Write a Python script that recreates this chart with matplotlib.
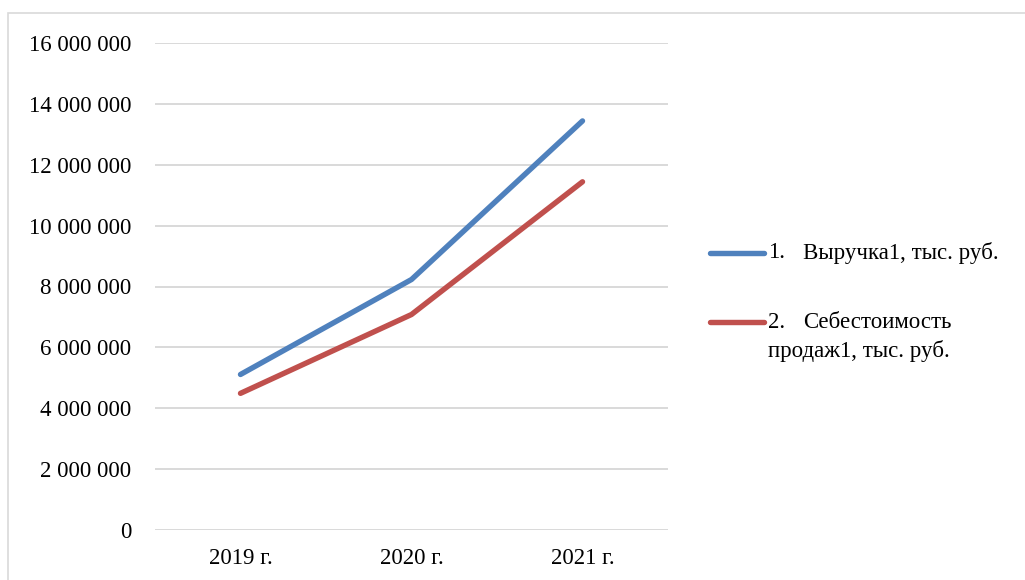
import matplotlib
matplotlib.use('Agg')
import matplotlib.pyplot as plt
from matplotlib.lines import Line2D
from matplotlib.patches import Rectangle
from matplotlib.ticker import FuncFormatter

plt.rcParams['font.family'] = ['Liberation Serif', 'DejaVu Serif']

# data
years = ['2019 г.', '2020 г.', '2021 г.']
revenue = [5110000, 8230000, 13440000]   # 1. Выручка1, тыс. руб.
cost = [4490000, 7080000, 11440000]      # 2. Себестоимость продаж1, тыс. руб.
yticks = list(range(0, 16000001, 2000000))

blue = '#4F81BD'
red = '#C0504D'
grid = '#D9D9D9'
fs = 16.5

W, H = 1025, 580
fig = plt.figure(figsize=(W / 100, H / 100), dpi=100)

# chart area frame (cut off on the right and bottom)
fig.add_artist(Rectangle((8 / W, -0.05), 1.1, (H - 13) / H + 0.05,
                         transform=fig.transFigure, fill=False,
                         edgecolor=grid, linewidth=1.2))

ax = fig.add_axes([155 / W, (H - 530) / H, 513 / W, 487 / H])
x = list(range(len(years)))
ax.plot(x, revenue, color=blue, lw=3.9, solid_capstyle='round', solid_joinstyle='round', zorder=3)
ax.plot(x, cost, color=red, lw=3.9, solid_capstyle='round', solid_joinstyle='round', zorder=3)

ax.set_xlim(-0.5, len(years) - 0.5)
ax.set_ylim(0, 16000000)
ax.set_yticks(yticks)
ax.yaxis.set_major_formatter(FuncFormatter(lambda v, p: f'{int(v):,}'.replace(',', ' ')))
ax.set_xticks(x)
ax.set_xticklabels(years)
ax.tick_params(axis='y', length=0, pad=17, labelsize=fs)
ax.tick_params(axis='x', length=0, pad=13, labelsize=fs)
ax.grid(axis='y', color=grid, lw=1.4)
ax.set_axisbelow(True)
for s in ax.spines.values():
    s.set_visible(False)

# legend on the right
def fy(py):
    return (H - py) / H

fig.add_artist(Line2D([710 / W, 764 / W], [fy(253), fy(253)], color=blue, lw=3.9,
                      solid_capstyle='round', transform=fig.transFigure))
fig.add_artist(Line2D([710 / W, 764 / W], [fy(322), fy(322)], color=red, lw=3.9,
                      solid_capstyle='round', transform=fig.transFigure))
fig.text(768 / W, fy(253), '1.', fontsize=fs, va='center', ha='left')
fig.text(803 / W, fy(253), 'Выручка1, тыс. руб.', fontsize=fs, va='center', ha='left')
fig.text(768 / W, fy(322), '2.', fontsize=fs, va='center', ha='left')
fig.text(803 / W, fy(322), 'Себестоимость', fontsize=fs, va='center', ha='left')
fig.text(768 / W, fy(351), 'продаж1, тыс. руб.', fontsize=fs, va='center', ha='left')

fig.savefig('out.png', dpi=100)
